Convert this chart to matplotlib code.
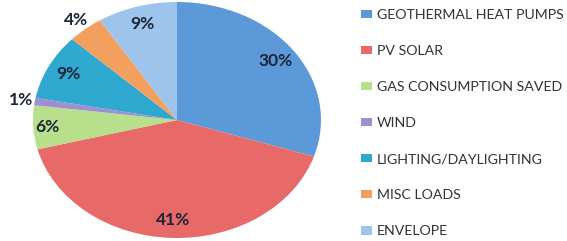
import matplotlib
matplotlib.use("Agg")
import matplotlib.pyplot as plt
import numpy as np

categories = ["GEOTHERMAL HEAT PUMPS", "PV SOLAR", "GAS CONSUMPTION SAVED", "WIND",
              "LIGHTING/DAYLIGHTING", "MISC LOADS", "ENVELOPE"]
values = [30, 41, 6, 1, 9, 4, 9]
colors = ["#5b99d8", "#e76a68", "#b7df8c", "#9f8fd0", "#2fa8d0", "#f3a05e", "#9dc4ec"]

plt.rcParams['font.family'] = ['Lato', 'DejaVu Sans']

fig = plt.figure(figsize=(5.67, 2.41), dpi=100)
ax = fig.add_axes([33/567, 1 - 238/241, 288/567, 236/241])

wedges, texts, autotexts = ax.pie(values, colors=colors, startangle=90, counterclock=False,
                                  autopct=lambda p: f"{p:.0f}%", pctdistance=0.85,
                                  radius=1.0, textprops=dict(fontsize=12.5, fontweight='bold', color='#1c2436'))
ax.set_aspect('auto')
ax.set_xlim(-1, 1)
ax.set_ylim(-1, 1)

for w, t, v in zip(wedges, autotexts, values):
    ang = np.deg2rad((w.theta1 + w.theta2) / 2)
    if v < 5:
        r = 1.1
        t.set_position((r * np.cos(ang), r * np.sin(ang)))
    elif v < 8:
        t.set_position((0.9 * np.cos(ang), 0.9 * np.sin(ang)))

leg = fig.legend(wedges, categories, loc='upper left', bbox_to_anchor=(361/567, 1 - 9/241),
                 frameon=False, fontsize=10.2, handlelength=0.8, handleheight=0.5,
                 handletextpad=0.3, labelspacing=1.7, borderaxespad=0, borderpad=0)
for t in leg.get_texts():
    t.set_color('#333333')

fig.savefig("out.png", dpi=100)
